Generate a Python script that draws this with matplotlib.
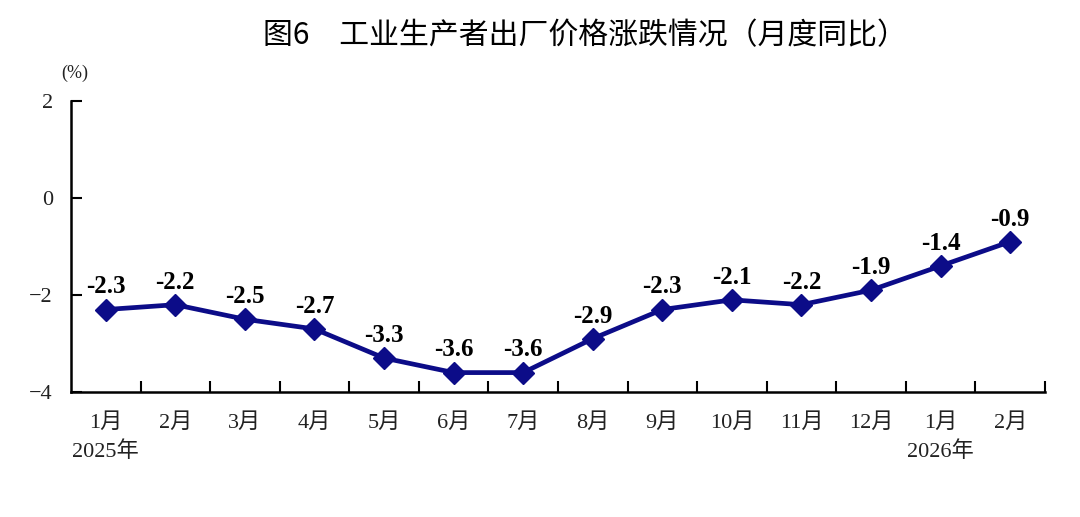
import matplotlib
matplotlib.use("Agg")
import matplotlib.pyplot as plt

# monthly year-on-year change of producer prices (%)
months = ["1月", "2月", "3月", "4月", "5月", "6月", "7月",
          "8月", "9月", "10月", "11月", "12月", "1月", "2月"]
values = [-2.3, -2.2, -2.5, -2.7, -3.3, -3.6, -3.6,
          -2.9, -2.3, -2.1, -2.2, -1.9, -1.4, -0.9]
value_labels = ["-2.3", "-2.2", "-2.5", "-2.7", "-3.3", "-3.6", "-3.6",
                "-2.9", "-2.3", "-2.1", "-2.2", "-1.9", "-1.4", "-0.9"]
year_labels = {0: "2025年", 12: "2026年"}
y_ticks = [-4, -2, 0, 2]

serif = ["Liberation Serif", "Noto Sans CJK SC"]
title_font = ["Noto Sans CJK SC", "DejaVu Sans"]
navy = "#0c0c88"

fig = plt.figure(figsize=(10.8, 5.17), dpi=100)
ax = fig.add_axes([0.0657, 0.2418, 0.9019, 0.5628])

x = list(range(len(months)))
ax.plot(x, values, color=navy, linewidth=3.4, marker="D", markersize=11,
        markerfacecolor=navy, markeredgecolor=navy, zorder=3)

for xi, v, lab in zip(x, values, value_labels):
    ax.annotate(lab, (xi, v), xytext=(0, 8), textcoords="offset points",
                ha="center", va="bottom", fontsize=18, fontweight="bold",
                family=serif, color="black")

ax.set_xlim(-0.5, len(months) - 0.5)
ax.set_ylim(-4, 2)
ax.set_yticks(y_ticks)
ax.set_yticklabels([str(t).replace("-", "\u2212") for t in y_ticks],
                   family=serif, fontsize=16, color="#222222")

# ticks between categories, labels centred under each month
ax.set_xticks([i + 0.5 for i in range(len(months))])
ax.set_xticklabels([])
ax.set_xticks(x, minor=True)
ax.set_xticklabels(months, minor=True, family=serif, fontsize=16, color="#222222")
ax.tick_params(axis="x", which="major", direction="in", length=8, width=1.5)
ax.tick_params(axis="x", which="minor", length=0, pad=15)
ax.tick_params(axis="y", direction="in", length=8, width=1.5, pad=13)

for side in ["top", "right"]:
    ax.spines[side].set_visible(False)
for side in ["left", "bottom"]:
    ax.spines[side].set_linewidth(1.8)

for idx, lab in year_labels.items():
    ax.text(idx, -0.205, lab, transform=ax.get_xaxis_transform(),
            ha="center", va="center", family=serif, fontsize=16, color="#222222")

fig.text(0.069, 0.858, "(%)", family=serif, fontsize=13, ha="center", va="center",
         color="#222222")
fig.text(0.542, 0.932, "图6\u3000工业生产者出厂价格涨跌情况（月度同比）",
         family=title_font, fontsize=21.5, fontweight="medium",
         ha="center", va="center", color="black")

fig.savefig("out.png", dpi=100, facecolor="white")
